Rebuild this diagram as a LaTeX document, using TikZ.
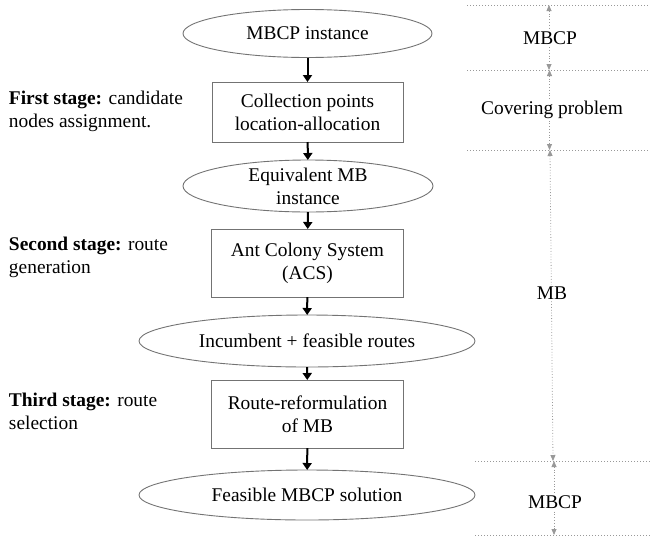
\documentclass[tikz,border=0pt]{standalone}
\usepackage{fontspec}
\setmainfont{Liberation Serif}
\usetikzlibrary{shapes.geometric,arrows.meta}
\begin{document}
\begin{tikzpicture}[x=1pt,y=-1pt,
  every node/.style={font=\fontsize{19.4}{23}\selectfont, inner sep=0pt, outer sep=0pt},
  ell/.style={ellipse, draw=black!55, line width=0.9pt, align=center},
  boxn/.style={rectangle, draw=black!55, line width=0.9pt, align=center},
  flow/.style={-{Triangle[width=9pt,length=7pt]}, line width=2pt, black},
  sepline/.style={draw=black!40, line width=1pt, dotted},
  rspan/.style={{Triangle[width=5pt,length=6pt]}-{Triangle[width=5pt,length=6pt]}, draw=black!40, line width=0.8pt, dotted},
  lab/.style={fill=white, inner sep=2pt},
  stage/.style={align=left, anchor=west}
]
\useasboundingbox (0,0) rectangle (650,544);

% main flow
\node[ell, minimum width=249pt, minimum height=48pt] (e1) at (307.5,33.5) {MBCP instance};
\node[boxn, minimum width=191pt, minimum height=60pt] (b1) at (307.5,112) {Collection points\\location-allocation};
\node[ell, minimum width=250pt, minimum height=52pt] (e2) at (308,186) {Equivalent MB\\instance};
\node[boxn, minimum width=192pt, minimum height=68pt] (b2) at (307.5,263) {Ant Colony System\\(ACS)};
\node[ell, minimum width=336pt, minimum height=52pt] (e3) at (307,341) {Incumbent + feasible routes};
\node[boxn, minimum width=192pt, minimum height=68pt] (b3) at (307.5,414) {Route-reformulation\\of MB};
\node[ell, minimum width=336pt, minimum height=50pt] (e4) at (307,495) {Feasible MBCP solution};

\draw[flow] (e1) -- (b1);
\draw[flow] (b1) -- (e2);
\draw[flow] (e2) -- (b2);
\draw[flow] (b2) -- (e3);
\draw[flow] (e3) -- (b3);
\draw[flow] (b3) -- (e4);

% stage labels
\node[stage] (s1) at (9,111.5) {\textbf{First stage:} candidate\\nodes assignment.};
\node[stage] (s2) at (9,257.5) {\textbf{Second stage:} route\\generation};
\node[stage] (s3) at (9,411.5) {\textbf{Third stage:} route\\selection};

% right-hand separators
\coordinate (h0a) at (467,5);   \coordinate (h0b) at (650,5);
\coordinate (h1a) at (467,70);  \coordinate (h1b) at (650,70);
\coordinate (h2a) at (467,150); \coordinate (h2b) at (650,150);
\coordinate (h3a) at (475,461); \coordinate (h3b) at (650,461);
\coordinate (h4a) at (475,535); \coordinate (h4b) at (650,535);
\draw[sepline] (h0a) -- (h0b);
\draw[sepline] (h1a) -- (h1b);
\draw[sepline] (h2a) -- (h2b);
\draw[sepline] (h3a) -- (h3b);
\draw[sepline] (h4a) -- (h4b);

\coordinate (v0) at (549,5);
\coordinate (v1) at (549,70);
\coordinate (v2) at (549.5,70);
\coordinate (v3) at (549.5,150);
\coordinate (v4) at (550,150);
\coordinate (v5) at (553,461);
\coordinate (v6) at (554,461);
\coordinate (v7) at (554,535);
\draw[rspan] (v0) -- (v1);
\draw[rspan] (v2) -- (v3);
\draw[rspan] (v4) -- (v5);
\draw[rspan] (v6) -- (v7);

\node[lab] (l1) at (550,38) {MBCP};
\node[lab] (l2) at (552,110) {Covering problem};
\node[lab] (l3) at (552,293) {MB};
\node[lab] (l4) at (555,502) {MBCP};
\end{tikzpicture}
\end{document}
